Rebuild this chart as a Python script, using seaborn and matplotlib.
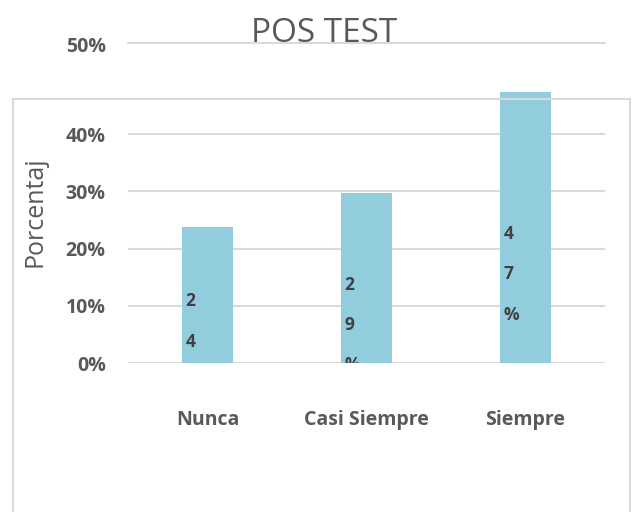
import matplotlib
matplotlib.use("Agg")
import matplotlib.pyplot as plt
import seaborn as sns
from matplotlib.patches import Rectangle
from matplotlib.lines import Line2D

categories = ["Nunca", "Casi Siempre", "Siempre"]
values = [0.238, 0.297, 0.474]
bar_labels = ["24%", "29%", "47%"]
y_ticks = [0.0, 0.1, 0.2, 0.3, 0.4]

BAR_COLOR = "#92CDDD"
GRID = "#D9D9D9"
TEXT = "#595959"
BAR_W = 0.315

sns.set_style("white")
plt.rcParams["font.family"] = ["Open Sans", "DejaVu Sans"]

fig = plt.figure(figsize=(6.36, 5.12), dpi=100)
ax = fig.add_axes([128 / 636, 0.291, 477 / 636, 0.536])
ax.set_facecolor("none")

# outer chart frame (bottom runs off the image)
fig.patches.append(Rectangle((13 / 636, -0.1), 617 / 636, 0.1 + 1 - 99 / 512,
                             transform=fig.transFigure, fill=False,
                             ec=GRID, lw=1.5, zorder=0))

sns.barplot(x=categories, y=values, color=BAR_COLOR, saturation=1,
            width=BAR_W, linewidth=0, ax=ax, zorder=3)

ax.set_xlim(-0.5, 2.5)
ax.set_ylim(0, 0.48)
ax.set_yticks(y_ticks)
ax.set_yticklabels([f"{t:.0%}" for t in y_ticks])
ax.yaxis.grid(True, color=GRID, lw=1.5)
ax.set_axisbelow(True)
for s in ax.spines.values():
    s.set_visible(False)
ax.tick_params(axis="y", length=0, pad=16, labelsize=14, labelcolor=TEXT)
ax.tick_params(axis="x", length=0, pad=34, labelsize=14, labelcolor=TEXT)
for lab in ax.get_yticklabels() + ax.get_xticklabels():
    lab.set_fontweight("bold")

ax.set_xlabel("")
ax.set_ylabel("Porcentaj", fontsize=18, color=TEXT)
ax.yaxis.set_label_coords(-0.168, 0.553)

# stacked data labels inside bars, clipped at the axis
for i, (v, lab) in enumerate(zip(values, bar_labels)):
    ax.text(i - BAR_W / 2 + 0.02, v / 2 - 0.082, "\n".join(lab),
            ha="left", va="center", linespacing=2.6, fontsize=12.5,
            fontweight="bold", color="#404040", clip_on=True, zorder=4)

# the stray 50% gridline above the frame
fig.add_artist(Line2D([128 / 636, 605 / 636], [1 - 43 / 512] * 2,
                      transform=fig.transFigure, color=GRID, lw=1.5))
fig.text(106 / 636, 1 - 47 / 512, "50%", ha="right", va="center",
         fontsize=14, fontweight="bold", color=TEXT)

fig.text(324 / 636, 1 - 42 / 512, "POS TEST", ha="center", va="baseline",
         fontsize=24, color=TEXT)

fig.savefig("out.png", dpi=100)
